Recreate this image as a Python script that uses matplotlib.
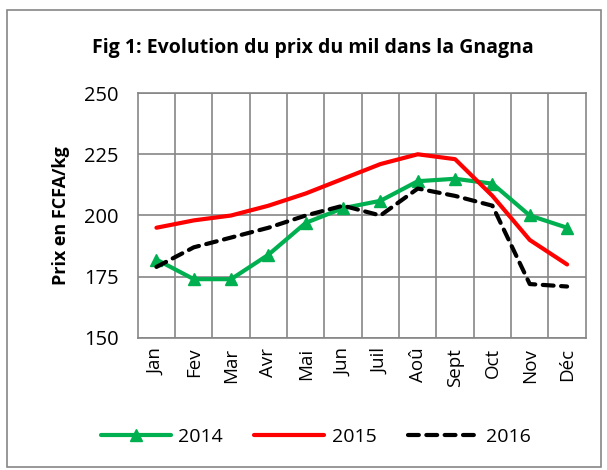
import matplotlib.pyplot as plt
from matplotlib.patches import Rectangle

'''data'''
mois = ['Jan', 'Fev', 'Mar', 'Avr', 'Mai', 'Jun', 'Juil', 'Aoû', 'Sept', 'Oct', 'Nov', 'Déc']
prix_2014 = [182, 174, 174, 184, 197, 203, 206, 214, 215, 213, 200, 195]
prix_2015 = [195, 198, 200, 204, 209, 215, 221, 225, 223, 208, 190, 180]
prix_2016 = [179, 187, 191, 195, 200, 204, 200, 211, 208, 204, 172, 171]

plt.rcParams['font.family'] = ['Open Sans', 'DejaVu Sans']

fig = plt.figure(figsize=(6.07, 4.7), dpi=100)
ax = fig.add_axes([0.227, 0.281, 0.738, 0.521])

x = range(len(mois))
ax.plot(x, prix_2014, color='#00B050', lw=3, marker='^', markersize=9, label='2014',
        solid_capstyle='round')
ax.plot(x, prix_2015, color='#FF0000', lw=3, label='2015', solid_capstyle='round')
ax.plot(x, prix_2016, color='black', lw=3, ls=(0, (2.6, 1.8)), label='2016',
        dash_capstyle='round')

'''axes'''
ax.set_xlim(-0.5, 11.5)
ax.set_ylim(150, 250)
ax.set_yticks([150, 175, 200, 225, 250])
ax.set_xticks(list(x))
ax.set_xticklabels(mois, rotation=90, fontsize=13.5)
ax.set_xticks([i + 0.5 for i in range(11)], minor=True)
ax.tick_params(axis='y', labelsize=14.5, length=0, pad=14)
ax.tick_params(axis='x', which='both', length=0, pad=7)
ax.grid(True, which='major', axis='y', color='#868686', lw=1.2)
ax.grid(True, which='minor', axis='x', color='#868686', lw=1.2)
ax.set_axisbelow(True)
for s in ax.spines.values():
    s.set_color('#868686')
    s.set_linewidth(1.2)
ax.set_ylabel('Prix en FCFA/kg', fontsize=13, weight='bold', labelpad=10)

fig.text(0.515, 0.898, 'Fig 1: Evolution du prix du mil dans la Gnagna',
         ha='center', va='center', fontsize=14, weight='bold')

fig.legend(loc='center', bbox_to_anchor=(0.52, 0.07), ncol=3, frameon=False,
           fontsize=14, handlelength=3.6, columnspacing=1.6, handletextpad=0.4)

fig.patches.append(Rectangle((0.012, 0.006), 0.978, 0.973, transform=fig.transFigure,
                             fill=False, edgecolor='#868686', lw=1.2))

plt.savefig('out.png', dpi=100)
